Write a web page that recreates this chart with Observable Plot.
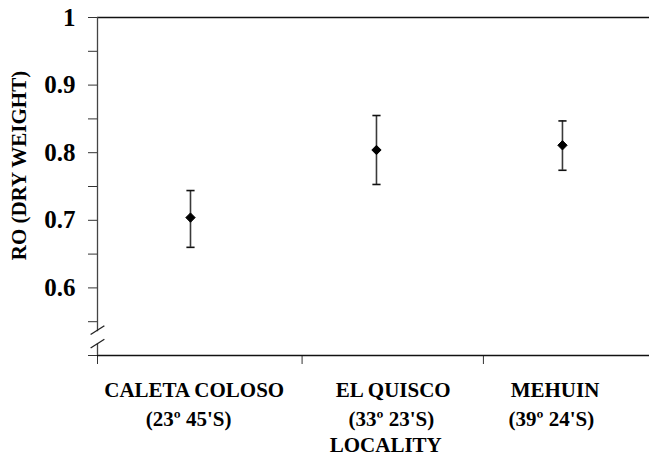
<!DOCTYPE html>
<html>
<head>
<meta charset="utf-8">
<script src="https://cdn.jsdelivr.net/npm/d3@7"></script>
<script src="https://cdn.jsdelivr.net/npm/@observablehq/plot@0.6"></script>
<style>
  html, body { margin: 0; padding: 0; background: #fff; }
  svg { display: block; }
  svg text { font-family: "Liberation Serif", "DejaVu Serif", "Noto Serif", Tinos, "Times New Roman", Times, serif !important; }
</style>
</head>
<body>
<div id="chart"></div>
<script>
// ---- data ----
const localities = ["CALETA COLOSO", "EL QUISCO", "MEHUIN"];
const latitudes = ["(23º 45'S)", "(33º 23'S)", "(39º 24'S)"];
const meanRO = [0.704, 0.804, 0.811];
const upperRO = [0.744, 0.855, 0.847];
const lowerRO = [0.660, 0.753, 0.774];
const yTickValues = [0.5, 0.55, 0.6, 0.65, 0.7, 0.75, 0.8, 0.85, 0.9, 0.95, 1];
const yTickLabels = ["0.6", "0.7", "0.8", "0.9", "1"];
const xTitle = "LOCALITY";
const yTitle = "RO (DRY WEIGHT)";

// ---- layout (positions in x units: one unit per locality slot) ----
const pointPos = [0.5, 1.5, 2.5];
const nameLabelPos = [0.52, 1.59, 2.46];
const latLabelPos = [0.49, 1.58, 2.44];
const xTickPos = [0, 1.1, 2.075];
const capHalf = 0.022;

const rows = localities.map((name, i) => ({
  name, lat: latitudes[i], x: pointPos[i],
  mean: meanRO[i], hi: upperRO[i], lo: lowerRO[i],
  nx: nameLabelPos[i], lx: latLabelPos[i]
}));

const font = "Liberation Serif, DejaVu Serif, serif";

const chart = Plot.plot({
  width: 649,
  height: 465,
  marginLeft: 97,
  marginRight: 0,
  marginTop: 17,
  marginBottom: 110,
  style: `font-family: ${font}; font-weight: bold; background: #fff; overflow: visible;`,
  x: { type: "linear", domain: [0, 2.968], axis: null },
  y: { domain: [0.5, 1], axis: null },
  marks: [
    // y axis ticks + labels
    Plot.axisY({
      ticks: yTickValues,
      tickSize: 9,
      tickPadding: 13,
      fontSize: 25,
      fontWeight: "bold",
      tickFormat: d => {
        const s = String(+d.toFixed(2));
        return yTickLabels.includes(s) ? s : "";
      },
      stroke: "#333"
    }),
    // x axis ticks (downward)
    Plot.axisX({ ticks: xTickPos, tickSize: 9, tickFormat: () => "", stroke: "#333" }),
    // top and bottom frame lines
    Plot.ruleY([1, 0.5], { stroke: "#111", strokeWidth: 1.6 }),
    // broken y axis line
    Plot.ruleX([0], { y1: 0.535, y2: 1, stroke: "#444", strokeWidth: 1.3 }),
    Plot.ruleX([0], { y1: 0.5, y2: 0.517, stroke: "#444", strokeWidth: 1.3 }),
    // break marks
    Plot.link([0.544, 0.524], {
      x1: -0.037, x2: 0.037, y1: d => d - 0.013, y2: d => d, stroke: "#222", strokeWidth: 1.3
    }),
    // error bars
    Plot.ruleX(rows, { x: "x", y1: "lo", y2: "hi", stroke: "#3a3a3a", strokeWidth: 1.6 }),
    Plot.link(rows, { x1: d => d.x - capHalf, x2: d => d.x + capHalf, y1: "hi", y2: "hi", stroke: "#111", strokeWidth: 1.6 }),
    Plot.link(rows, { x1: d => d.x - capHalf, x2: d => d.x + capHalf, y1: "lo", y2: "lo", stroke: "#111", strokeWidth: 1.6 }),
    // means
    Plot.dot(rows, { x: "x", y: "mean", symbol: "diamond2", r: 4.2, fill: "#000", stroke: "#000", strokeWidth: 1 }),
    // category labels
    Plot.text(rows, { x: "nx", text: "name", frameAnchor: "bottom", dy: 41, fontSize: 21, fontWeight: "bold", fill: "#000" }),
    Plot.text(rows, { x: "lx", text: "lat", frameAnchor: "bottom", dy: 70, fontSize: 21, fontWeight: "bold", fill: "#000" }),
    Plot.text([xTitle], { x: [1.55], text: d => d, frameAnchor: "bottom", dy: 96, fontSize: 21, fontWeight: "bold", fill: "#000" }),
    // y title
    Plot.text([yTitle], { x: [0], y: [0.781], text: d => d, dx: -78, rotate: -90, fontSize: 21, fontWeight: "bold", fill: "#000" })
  ]
});

document.getElementById("chart").appendChild(chart);
</script>
</body>
</html>
